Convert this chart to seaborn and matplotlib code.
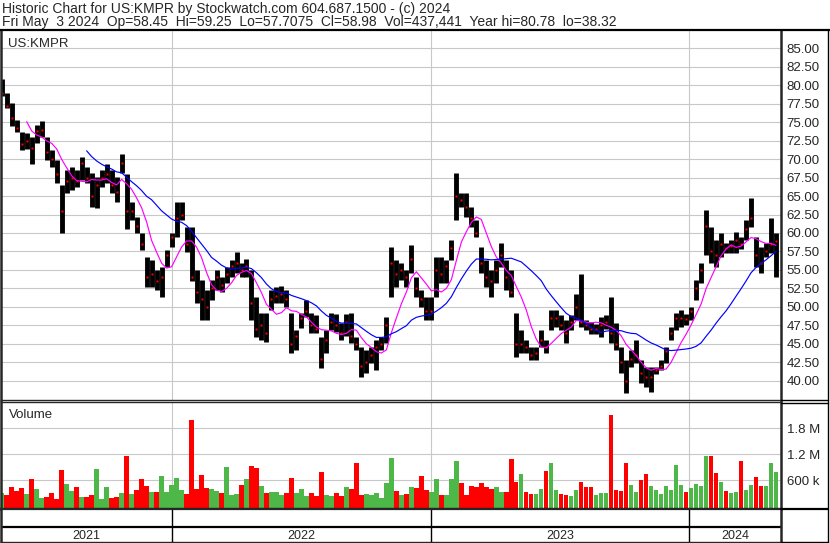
import numpy as np
import pandas as pd
import matplotlib
matplotlib.use('Agg')
import matplotlib.pyplot as plt
import matplotlib.dates as mdates
from matplotlib.lines import Line2D
import seaborn as sns

# weekly high / low / close (May 2021 - May 2024)
high = [80.8, 79.0, 77.6, 75.3, 73.7, 73.5, 73.0, 74.6, 75.1, 73.0,
        71.2, 69.9, 66.5, 68.5, 68.9, 68.5, 70.3, 68.9, 68.1, 67.6,
        68.5, 69.4, 68.5, 67.6, 70.7, 68.0, 64.2, 62.2, 60.0, 56.7,
        56.3, 55.0, 55.4, 57.7, 60.0, 64.2, 64.2, 60.8, 60.8, 55.0,
        53.6, 52.3, 53.6, 55.0, 54.1, 55.4, 56.3, 57.4, 56.0, 56.5,
        55.0, 51.3, 49.1, 49.1, 52.3, 52.7, 52.8, 52.3, 49.1, 46.8,
        49.1, 50.9, 49.1, 48.9, 45.9, 46.8, 49.1, 49.0, 47.8, 49.0,
        49.1, 45.9, 44.6, 44.1, 44.6, 45.5, 45.9, 48.6, 58.1, 56.3,
        56.0, 55.0, 58.4, 54.1, 52.3, 51.3, 51.3, 56.7, 56.7, 56.3,
        59.0, 68.1, 65.4, 65.4, 63.5, 61.7, 58.1, 56.3, 55.0, 56.3,
        58.6, 56.3, 55.0, 49.1, 46.8, 45.5, 44.6, 44.6, 46.8, 45.5,
        49.6, 49.6, 48.9, 48.2, 48.9, 51.8, 54.4, 48.2, 48.0, 47.7,
        48.6, 48.9, 51.3, 47.8, 44.6, 42.8, 44.1, 45.5, 42.8, 41.9,
        41.9, 41.9, 42.8, 44.6, 47.3, 49.1, 49.6, 49.0, 50.0, 53.6,
        55.9, 63.1, 60.8, 59.0, 60.0, 58.6, 59.0, 60.1, 59.5, 61.7,
        64.7, 59.4, 58.1, 58.6, 62.0, 60.0]
low = [78.5, 76.9, 74.5, 73.7, 71.2, 71.3, 69.4, 72.2, 73.0, 69.9,
       68.9, 66.7, 60.0, 65.4, 65.8, 66.2, 67.2, 66.7, 63.5, 63.4,
       66.2, 66.7, 65.4, 64.2, 68.1, 60.5, 61.7, 60.0, 57.7, 52.7,
       52.7, 52.3, 51.3, 55.4, 58.1, 59.4, 61.7, 57.4, 53.5, 50.5,
       48.2, 48.2, 50.9, 52.3, 52.0, 53.2, 54.1, 54.6, 54.0, 54.0,
       48.2, 45.9, 45.5, 45.2, 49.6, 50.5, 50.5, 50.0, 43.7, 44.1,
       47.2, 48.6, 46.4, 46.5, 41.7, 43.7, 46.8, 46.6, 45.5, 46.0,
       45.1, 44.1, 40.5, 41.0, 42.4, 41.5, 44.1, 45.1, 51.3, 52.7,
       53.6, 52.7, 54.6, 51.3, 50.0, 48.2, 48.2, 51.3, 53.2, 53.2,
       56.3, 61.7, 63.5, 62.2, 60.8, 59.4, 54.6, 52.7, 51.3, 53.2,
       55.4, 52.3, 51.3, 43.2, 43.7, 43.7, 42.8, 42.8, 44.6, 43.7,
       46.8, 47.3, 46.8, 45.1, 46.8, 48.2, 47.3, 46.8, 46.3, 46.3,
       45.9, 47.0, 45.1, 44.1, 41.1, 38.3, 41.8, 42.4, 39.7, 39.2,
       38.5, 40.9, 41.5, 42.4, 45.5, 46.8, 47.3, 47.6, 48.2, 50.9,
       53.2, 57.0, 55.9, 55.4, 56.7, 57.3, 57.3, 57.3, 57.8, 59.0,
       60.8, 55.4, 54.6, 56.7, 57.3, 54.1]
close = [79.0, 77.2, 75.5, 74.2, 72.0, 72.5, 71.5, 73.8, 74.0, 71.0,
         70.0, 68.0, 63.0, 67.0, 67.5, 67.0, 69.5, 67.5, 65.0, 66.5,
         67.5, 68.0, 66.5, 65.5, 69.5, 63.0, 63.0, 61.0, 58.5, 54.0,
         54.5, 53.5, 54.0, 57.0, 59.5, 62.0, 62.5, 58.5, 54.0, 52.0,
         51.0, 50.0, 52.5, 54.0, 53.0, 54.5, 55.5, 56.0, 55.0, 55.5,
         50.5, 47.0, 47.5, 46.5, 51.0, 51.5, 51.8, 51.0, 45.0, 46.0,
         48.5, 49.5, 47.5, 47.0, 43.0, 45.5, 48.0, 47.5, 46.5, 48.0,
         46.0, 45.0, 42.0, 42.5, 43.5, 44.5, 45.0, 47.5, 56.0, 54.5,
         55.0, 54.0, 56.5, 52.5, 51.0, 49.5, 49.5, 55.0, 54.5, 55.5,
         58.0, 65.0, 64.5, 63.5, 62.0, 60.0, 56.0, 54.0, 53.5, 55.0,
         57.0, 54.0, 52.0, 45.0, 45.0, 44.5, 43.5, 43.8, 45.5, 44.5,
         48.5, 48.5, 47.5, 46.5, 48.0, 50.0, 48.0, 47.5, 47.0, 47.0,
         47.5, 48.0, 46.5, 45.0, 42.5, 40.0, 43.0, 43.5, 41.0, 40.5,
         40.5, 41.5, 42.0, 44.0, 46.5, 48.5, 48.5, 48.3, 49.5, 52.5,
         55.0, 61.0, 57.5, 57.0, 58.5, 58.0, 58.3, 59.0, 58.5, 60.5,
         62.0, 57.0, 56.0, 57.5, 58.5, 58.98]
# volume in thousands of shares
volume_k = [300, 270, 450, 350, 420, 280, 630, 400, 200, 220,
            300, 180, 840, 520, 350, 450, 220, 220, 260, 860,
            180, 450, 200, 220, 300, 1150, 280, 380, 640, 480,
            320, 320, 700, 320, 500, 650, 380, 290, 2000, 400,
            720, 430, 390, 360, 300, 900, 260, 290, 500, 620,
            930, 880, 460, 300, 320, 330, 260, 300, 660, 300,
            400, 230, 300, 230, 800, 260, 230, 300, 230, 450,
            400, 1000, 260, 280, 260, 300, 200, 530, 1120, 350,
            260, 280, 450, 420, 700, 380, 320, 640, 260, 250,
            620, 1050, 540, 260, 470, 440, 540, 440, 400, 450,
            320, 320, 1100, 560, 750, 320, 290, 290, 400, 820,
            1000, 380, 290, 260, 230, 380, 550, 440, 440, 260,
            300, 300, 2100, 380, 350, 1000, 500, 330, 600, 750,
            460, 380, 280, 480, 380, 950, 500, 320, 420, 520,
            480, 1150, 1170, 760, 550, 350, 300, 330, 1050, 380,
            500, 680, 480, 480, 1000, 800]
year_labels = ['2021', '2022', '2023', '2024']

title1 = 'Historic Chart for US:KMPR by Stockwatch.com 604.687.1500 - (c) 2024'
title2 = ('Fri May  3 2024  Op=58.45  Hi=59.25  Lo=57.7075  Cl=58.98  '
          'Vol=437,441  Year hi=80.78  lo=38.32')

sns.set_style('white')
plt.rcParams['font.family'] = ['Liberation Sans', 'DejaVu Sans']

dates = pd.date_range('2021-05-05', '2024-05-03', periods=len(close))
df = pd.DataFrame({'date': dates, 'high': high, 'low': low, 'close': close,
                   'vol': np.array(volume_k) * 1000.0})
df['ma_short'] = df['close'].rolling(6).mean()
df['ma_long'] = df['close'].rolling(18).mean()
df['up'] = df['close'].diff().fillna(0) >= 0

W, H = 830, 543
fig = plt.figure(figsize=(W / 100, H / 100), dpi=100)
fig.patch.set_facecolor('white')


def fx(px):
    return px / W


def fy(py):
    return 1 - py / H


x0, x1 = 1, 781
ax = fig.add_axes([fx(x0), fy(400), fx(x1) - fx(x0), fy(31) - fy(400)])
axv = fig.add_axes([fx(x0), fy(509), fx(x1) - fx(x0), fy(402) - fy(509)])
axd = fig.add_axes([fx(x0), fy(541.5), fx(x1) - fx(x0), fy(509) - fy(541.5)])

xlim = (mdates.date2num(pd.Timestamp('2021-05-04')),
        mdates.date2num(pd.Timestamp('2024-05-10')))
year_starts = [pd.Timestamp(f'{y}-01-01') for y in year_labels[1:]]
grid_c = '#C8C8C8'

# --- price panel ---
ax.vlines(df['date'], df['low'], df['high'], color='black', lw=3.5)
ax.plot(df['date'], df['close'], ls='none', marker='s', ms=1.6,
        color='red', mec='none')
sns.lineplot(data=df, x='date', y='ma_short', ax=ax, color='#FF00FF', lw=0.85)
sns.lineplot(data=df, x='date', y='ma_long', ax=ax, color='#0000FF', lw=0.85)
ax.set_xlim(xlim)
ax.set_ylim(37.39, 87.34)
ax.set_yticks(np.arange(40, 85.1, 2.5))
ax.set_yticklabels([f'{v:.2f}' for v in np.arange(40, 85.1, 2.5)])
ax.set_xticks(year_starts)
ax.set_axisbelow(True)
ax.grid(True, color=grid_c, lw=0.8)
ax.tick_params(axis='y', left=False, labelleft=False, right=True,
               labelright=True, length=0, pad=4.0, labelsize=9.5)
ax.tick_params(axis='x', bottom=False, labelbottom=False, length=0)
ax.set_xlabel('')
ax.set_ylabel('')
fig.text(fx(8), fy(46.7), 'US:KMPR', fontsize=9.5, va='baseline')
for s in ['left', 'right']:
    ax.spines[s].set_linewidth(1.8)
ax.spines['top'].set_linewidth(0)
ax.spines['bottom'].set_linewidth(1.0)

# --- volume panel ---
vmin, vmax = -62e3, 2.407e6
colors = np.where(df['up'], '#4DB848', '#FF0000')
axv.bar(df['date'], df['vol'] - vmin, bottom=vmin, width=6.3,
        color=colors, linewidth=0)
axv.set_xlim(xlim)
axv.set_ylim(vmin, vmax)
axv.set_yticks([6e5, 1.2e6, 1.8e6])
axv.set_yticklabels(['600 k', '1.2 M', '1.8 M'])
axv.set_xticks(year_starts)
axv.set_axisbelow(True)
axv.grid(True, color=grid_c, lw=0.8)
axv.tick_params(axis='y', left=False, labelleft=False, right=True,
                labelright=True, length=0, pad=4.0, labelsize=9.5)
axv.tick_params(axis='x', bottom=False, labelbottom=False, length=0)
fig.text(fx(9), fy(417.7), 'Volume', fontsize=9.5, va='baseline')
for s in ['left', 'right']:
    axv.spines[s].set_linewidth(1.8)
axv.spines['top'].set_linewidth(1.0)
axv.spines['bottom'].set_linewidth(1.6)

# --- date strip ---
axd.set_xlim(xlim)
axd.set_ylim(0, 1)
axd.set_xticks([])
axd.set_yticks([])
axd.axhline(0.46, color='black', lw=1.6)
axd.vlines(year_starts, 0, 1, color='black', lw=1.0)
bounds = [xlim[0]] + [mdates.date2num(d) for d in year_starts] + [xlim[1]]
for lab, a, b in zip(year_labels, bounds[:-1], bounds[1:]):
    axd.text((a + b) / 2, 0.07, lab, ha='center', va='baseline', fontsize=9)
for s in ['left', 'right']:
    axd.spines[s].set_linewidth(1.8)
axd.spines['top'].set_linewidth(1.6)
axd.spines['bottom'].set_linewidth(1.0)


# --- frame lines ---
def hline(py, a, b, lw):
    fig.add_artist(Line2D([fx(a), fx(b)], [fy(py), fy(py)],
                          transform=fig.transFigure, color='black', lw=lw))


hline(30, 0, 830, 1.6)
hline(400, 781, 828, 1.0)
hline(402.5, 781, 828, 1.0)
hline(509, 781, 828, 1.6)
hline(541.5, 781, 828, 1.0)
fig.add_artist(Line2D([fx(828), fx(828)], [fy(30), fy(541.5)],
                      transform=fig.transFigure, color='black', lw=1.0))

fig.text(fx(2), fy(13), title1, fontsize=10, va='baseline')
fig.text(fx(2), fy(26), title2, fontsize=10, va='baseline')

fig.savefig('out.png', dpi=100, facecolor='white')
